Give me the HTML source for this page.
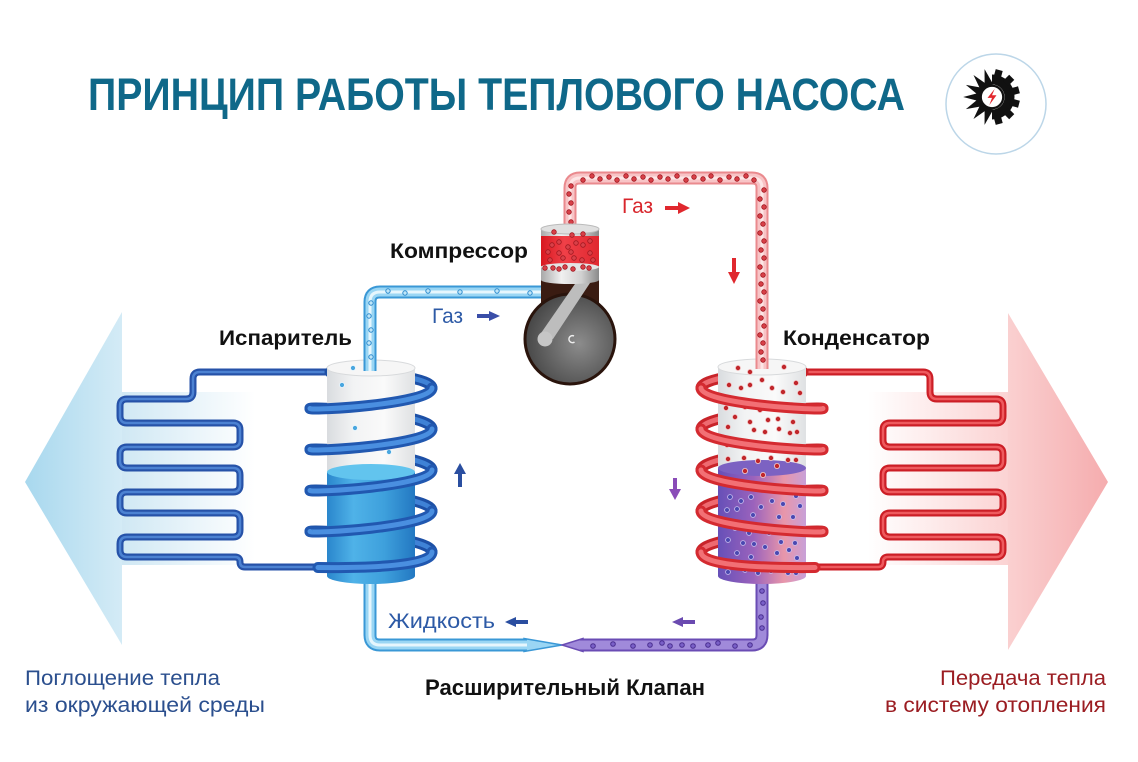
<!DOCTYPE html>
<html><head><meta charset="utf-8"><style>html,body{margin:0;padding:0;background:#fff;}svg{display:block}</style></head>
<body>
<svg xmlns="http://www.w3.org/2000/svg" xmlns:xlink="http://www.w3.org/1999/xlink" width="1138" height="762" viewBox="0 0 1138 762" font-family="'Liberation Sans','DejaVu Sans',sans-serif">
<defs>
<linearGradient id="gL" gradientUnits="userSpaceOnUse" x1="25" y1="0" x2="122" y2="0"><stop offset="0" stop-color="#a8d8ee"/><stop offset="1" stop-color="#d4ebf6"/></linearGradient>
<linearGradient id="gLb" gradientUnits="userSpaceOnUse" x1="122" y1="0" x2="255" y2="0"><stop offset="0" stop-color="#d0e8f4"/><stop offset="1" stop-color="#ffffff"/></linearGradient>
<linearGradient id="gR" gradientUnits="userSpaceOnUse" x1="1008" y1="0" x2="1108" y2="0"><stop offset="0" stop-color="#fad0d0"/><stop offset="1" stop-color="#f5acae"/></linearGradient>
<linearGradient id="gRb" gradientUnits="userSpaceOnUse" x1="868" y1="0" x2="1008" y2="0"><stop offset="0" stop-color="#ffffff"/><stop offset="1" stop-color="#fbd3d3"/></linearGradient>
<linearGradient id="glass" x1="0" y1="0" x2="1" y2="0"><stop offset="0" stop-color="#d9dcdf"/><stop offset="0.3" stop-color="#f2f3f4"/><stop offset="0.65" stop-color="#fafafa"/><stop offset="1" stop-color="#dfe1e3"/></linearGradient>
<linearGradient id="bliq" x1="0" y1="0" x2="1" y2="0"><stop offset="0" stop-color="#2a86cc"/><stop offset="0.3" stop-color="#4fb2e8"/><stop offset="0.65" stop-color="#3ea0dc"/><stop offset="1" stop-color="#2378c2"/></linearGradient>
<linearGradient id="pliq" x1="0" y1="0" x2="1" y2="0"><stop offset="0" stop-color="#6650b8"/><stop offset="0.4" stop-color="#9a62bc"/><stop offset="0.75" stop-color="#e896aa"/><stop offset="1" stop-color="#c8a0d8"/></linearGradient>
<linearGradient id="redband" x1="0" y1="0" x2="1" y2="0"><stop offset="0" stop-color="#d81820"/><stop offset="0.4" stop-color="#f04048"/><stop offset="1" stop-color="#e02830"/></linearGradient>
<linearGradient id="piston" x1="0" y1="0" x2="1" y2="0"><stop offset="0" stop-color="#a8a8a8"/><stop offset="0.35" stop-color="#f0f0f0"/><stop offset="0.7" stop-color="#d0d0d0"/><stop offset="1" stop-color="#8a8a8a"/></linearGradient>
<radialGradient id="disc" cx="0.6" cy="0.55" r="0.6"><stop offset="0" stop-color="#8c8c8c"/><stop offset="1" stop-color="#474747"/></radialGradient>

<path id="serL" d="M 335 372 L 200 372 Q 193 372 193 379 L 193 392 Q 193 399 186 399 L 127 399 Q 120 399 120 406 L 120 416 Q 120 423 127 423 L 233 423 Q 240 423 240 430 L 240 440 Q 240 447 233 447 L 127 447 Q 120 447 120 454 L 120 461 Q 120 468 127 468 L 233 468 Q 240 468 240 475 L 240 485 Q 240 492 233 492 L 127 492 Q 120 492 120 499 L 120 506 Q 120 513 127 513 L 233 513 Q 240 513 240 520 L 240 530 Q 240 537 233 537 L 127 537 Q 120 537 120 544 L 120 550 Q 120 557 127 557 L 235 557 Q 240 557 240 562 Q 240 567 245 567 L 335 567"/>
<path id="serR" d="M 798 372 L 923 372 Q 930 372 930 379 L 930 392 Q 930 399 937 399 L 996 399 Q 1003 399 1003 406 L 1003 416 Q 1003 423 996 423 L 890 423 Q 883 423 883 430 L 883 440 Q 883 447 890 447 L 996 447 Q 1003 447 1003 454 L 1003 461 Q 1003 468 996 468 L 890 468 Q 883 468 883 475 L 883 485 Q 883 492 890 492 L 996 492 Q 1003 492 1003 499 L 1003 506 Q 1003 513 996 513 L 890 513 Q 883 513 883 520 L 883 530 Q 883 537 890 537 L 996 537 Q 1003 537 1003 544 L 1003 550 Q 1003 557 996 557 L 888 557 Q 883 557 883 562 Q 883 567 878 567 L 798 567"/>

<path id="backL" d="M 330 372 C 390 372 432 379 432 388 M 310 408.5 C 310 406 432 412.9 432 429 M 310 449.5 C 310 447 432 453.9 432 470 M 310 490.5 C 310 488 432 494.9 432 511 M 310 531.5 C 310 529 432 535.9 432 552"/>
<path id="frontL" d="M 432 388 C 432 404.1 310 411 310 408.5 M 432 429 C 432 445.1 310 452 310 449.5 M 432 470 C 432 486.1 310 493 310 490.5 M 432 511 C 432 527.1 310 534 310 531.5 M 432 552 C 432 566 370 568 318 567.5"/>
<path id="backR" d="M 803 372 C 743 372 701 379 701 388 M 823 408.5 C 823 406 701 412.9 701 429 M 823 449.5 C 823 447 701 453.9 701 470 M 823 490.5 C 823 488 701 494.9 701 511 M 823 531.5 C 823 529 701 535.9 701 552"/>
<path id="frontR" d="M 701 388 C 701 404.1 823 411 823 408.5 M 701 429 C 701 445.1 823 452 823 449.5 M 701 470 C 701 486.1 823 493 823 490.5 M 701 511 C 701 527.1 823 534 823 531.5 M 701 552 C 701 566 763 568 815 567.5"/>

<path id="gasB" d="M 370 371 L 370 302 Q 370 292 380 292 L 545 292"/>
<path id="gasR" d="M 570 232 L 570 188 Q 570 178 580 178 L 752 178 Q 762 178 762 188 L 762 369"/>
<path id="liqB" d="M 370 580 L 370 635 Q 370 645 380 645 L 527 645"/>
<path id="liqP" d="M 762 580 L 762 635 Q 762 645 752 645 L 580 645"/>
</defs>

<!-- big arrows -->
<polygon points="25,482 122,312 122,645" fill="url(#gL)"/>
<rect x="122" y="392" width="133" height="173" fill="url(#gLb)"/>
<polygon points="1108,482 1008,313 1008,650" fill="url(#gR)"/>
<rect x="868" y="392" width="140" height="173" fill="url(#gRb)"/>

<!-- serpentines -->
<g fill="none" stroke-linejoin="round">
<use xlink:href="#serL" stroke="#2652a8" stroke-width="7"/>
<use xlink:href="#serL" stroke="#4c82d2" stroke-width="2.5"/>
<use xlink:href="#serR" stroke="#cc1e26" stroke-width="7"/>
<use xlink:href="#serR" stroke="#ee5a5e" stroke-width="2.5"/>
</g>

<!-- bottom liquid tubes -->
<polygon points="524,638.5 562,645 524,651.5" fill="#9ad6f4" stroke="#3a98d6" stroke-width="1.5"/>
<polygon points="583,638.5 562,645 583,651.5" fill="#a08ada" stroke="#6a4cb4" stroke-width="1.5"/>
<g fill="none">
<use xlink:href="#liqB" stroke="#3a98d6" stroke-width="13"/>
<use xlink:href="#liqB" stroke="#9ad6f4" stroke-width="9"/>
<use xlink:href="#liqB" stroke="#e6f6fd" stroke-width="3"/>
<use xlink:href="#liqP" stroke="#6a4cb4" stroke-width="13"/>
<use xlink:href="#liqP" stroke="#a08ada" stroke-width="9"/>
</g>
<g fill="#7a60c8" stroke="#4a2f90" stroke-width="1">
<circle cx="593" cy="646" r="2.3"/><circle cx="613" cy="644" r="2.3"/><circle cx="633" cy="646" r="2.3"/><circle cx="650" cy="645" r="2.3"/><circle cx="662" cy="643" r="2.3"/><circle cx="670" cy="646" r="2.3"/><circle cx="682" cy="645" r="2.3"/><circle cx="693" cy="646" r="2.3"/><circle cx="708" cy="645" r="2.3"/><circle cx="718" cy="643" r="2.3"/><circle cx="735" cy="646" r="2.3"/><circle cx="750" cy="645" r="2.3"/><circle cx="762" cy="628" r="2.3"/><circle cx="761" cy="617" r="2.3"/><circle cx="763" cy="603" r="2.3"/><circle cx="762" cy="591" r="2.3"/>
</g>

<!-- coil back strands -->
<g fill="none" stroke-linecap="round">
<use xlink:href="#backL" stroke="#1d50a6" stroke-width="11"/>
<use xlink:href="#backL" stroke="#3f82d6" stroke-width="5"/>
<use xlink:href="#backR" stroke="#c8242a" stroke-width="11"/>
<use xlink:href="#backR" stroke="#ee6a70" stroke-width="5"/>
</g>

<!-- evaporator cylinder -->
<rect x="327" y="368" width="88" height="104" fill="url(#glass)"/>
<ellipse cx="371" cy="368" rx="44" ry="8" fill="#f6f6f6" stroke="#d8dadc" stroke-width="1"/>
<path d="M327 472 L327 576 A44 8 0 0 0 415 576 L415 472 Z" fill="url(#bliq)"/>
<ellipse cx="371" cy="472" rx="44" ry="8" fill="#62c4ee"/>
<g fill="#49a6df" stroke="#e8f6fd" stroke-width="0.8">
<circle cx="353" cy="368" r="2.5"/><circle cx="342" cy="385" r="2.5"/><circle cx="355" cy="428" r="2.5"/><circle cx="343" cy="452" r="2.5"/><circle cx="389" cy="452" r="2.5"/>
</g>

<!-- condenser cylinder -->
<rect x="718" y="367" width="88" height="101" fill="url(#glass)"/>
<ellipse cx="762" cy="367" rx="44" ry="8" fill="#f6f6f6" stroke="#d8dadc" stroke-width="1"/>
<path d="M718 468 L718 576 A44 8 0 0 0 806 576 L806 468 Z" fill="url(#pliq)"/>
<ellipse cx="762" cy="468" rx="44" ry="8" fill="#7c62c2"/>
<g fill="#c0262b" stroke="#f4d0d0" stroke-width="0.8">
<circle cx="738" cy="368" r="2.6"/><circle cx="750" cy="372" r="2.6"/><circle cx="784" cy="367" r="2.6"/><circle cx="729" cy="385" r="2.6"/><circle cx="741" cy="388" r="2.6"/><circle cx="750" cy="385" r="2.6"/><circle cx="762" cy="380" r="2.6"/><circle cx="772" cy="388" r="2.6"/><circle cx="783" cy="392" r="2.6"/><circle cx="796" cy="383" r="2.6"/><circle cx="800" cy="393" r="2.6"/><circle cx="726" cy="408" r="2.6"/><circle cx="745" cy="407" r="2.6"/><circle cx="760" cy="410" r="2.6"/><circle cx="769" cy="408" r="2.6"/><circle cx="779" cy="405" r="2.6"/><circle cx="792" cy="405" r="2.6"/><circle cx="735" cy="417" r="2.6"/><circle cx="750" cy="422" r="2.6"/><circle cx="768" cy="420" r="2.6"/><circle cx="778" cy="419" r="2.6"/><circle cx="793" cy="422" r="2.6"/><circle cx="728" cy="427" r="2.6"/><circle cx="754" cy="430" r="2.6"/><circle cx="765" cy="432" r="2.6"/><circle cx="779" cy="429" r="2.6"/><circle cx="790" cy="433" r="2.6"/><circle cx="797" cy="432" r="2.6"/><circle cx="727" cy="445" r="2.6"/><circle cx="740" cy="442" r="2.6"/><circle cx="755" cy="445" r="2.6"/><circle cx="766" cy="446" r="2.6"/><circle cx="781" cy="450" r="2.6"/><circle cx="795" cy="447" r="2.6"/><circle cx="728" cy="459" r="2.6"/><circle cx="744" cy="458" r="2.6"/><circle cx="758" cy="461" r="2.6"/><circle cx="771" cy="458" r="2.6"/><circle cx="788" cy="460" r="2.6"/><circle cx="796" cy="460" r="2.6"/><circle cx="777" cy="466" r="2.6"/><circle cx="745" cy="471" r="2.6"/><circle cx="763" cy="475" r="2.6"/>
</g>
<g fill="#4a48b0" stroke="#c8c0f0" stroke-width="0.8">
<circle cx="764" cy="488" r="2.4"/><circle cx="730" cy="497" r="2.4"/><circle cx="741" cy="501" r="2.4"/><circle cx="751" cy="497" r="2.4"/><circle cx="772" cy="501" r="2.4"/><circle cx="783" cy="504" r="2.4"/><circle cx="796" cy="496" r="2.4"/><circle cx="800" cy="506" r="2.4"/><circle cx="727" cy="510" r="2.4"/><circle cx="737" cy="509" r="2.4"/><circle cx="761" cy="507" r="2.4"/><circle cx="753" cy="515" r="2.4"/><circle cx="779" cy="517" r="2.4"/><circle cx="793" cy="517" r="2.4"/><circle cx="735" cy="528" r="2.4"/><circle cx="749" cy="533" r="2.4"/><circle cx="769" cy="533" r="2.4"/><circle cx="779" cy="532" r="2.4"/><circle cx="792" cy="533" r="2.4"/><circle cx="728" cy="540" r="2.4"/><circle cx="743" cy="543" r="2.4"/><circle cx="754" cy="544" r="2.4"/><circle cx="765" cy="547" r="2.4"/><circle cx="781" cy="542" r="2.4"/><circle cx="789" cy="550" r="2.4"/><circle cx="795" cy="543" r="2.4"/><circle cx="737" cy="553" r="2.4"/><circle cx="751" cy="557" r="2.4"/><circle cx="777" cy="553" r="2.4"/><circle cx="797" cy="558" r="2.4"/><circle cx="728" cy="572" r="2.4"/><circle cx="745" cy="570" r="2.4"/><circle cx="758" cy="573" r="2.4"/><circle cx="771" cy="571" r="2.4"/><circle cx="788" cy="573" r="2.4"/><circle cx="796" cy="573" r="2.4"/>
</g>

<!-- coil front strands -->
<g fill="none" stroke-linecap="round">
<use xlink:href="#frontL" stroke="#2158b0" stroke-width="11"/>
<use xlink:href="#frontL" stroke="#4a8fe0" stroke-width="5"/>
<use xlink:href="#frontR" stroke="#d42a30" stroke-width="11"/>
<use xlink:href="#frontR" stroke="#f27075" stroke-width="5"/>
</g>

<!-- gas tubes -->
<g fill="none">
<use xlink:href="#gasB" stroke="#3a98d6" stroke-width="13"/>
<use xlink:href="#gasB" stroke="#9ad6f4" stroke-width="9"/>
<use xlink:href="#gasB" stroke="#e6f6fd" stroke-width="3"/>
<use xlink:href="#gasR" stroke="#ea8a8e" stroke-width="13"/>
<use xlink:href="#gasR" stroke="#f8c4c6" stroke-width="9"/>
<use xlink:href="#gasR" stroke="#fde6e6" stroke-width="3"/>
</g>
<g fill="#bfe6f8" stroke="#2f8ccf" stroke-width="1">
<circle cx="388" cy="291" r="2.2"/><circle cx="405" cy="293" r="2.2"/><circle cx="428" cy="291" r="2.2"/><circle cx="460" cy="292" r="2.2"/><circle cx="497" cy="291" r="2.2"/><circle cx="530" cy="293" r="2.2"/><circle cx="371" cy="303" r="2.2"/><circle cx="369" cy="316" r="2.2"/><circle cx="371" cy="330" r="2.2"/><circle cx="369" cy="343" r="2.2"/><circle cx="371" cy="357" r="2.2"/>
</g>
<g fill="#d84048" stroke="#a01820" stroke-width="0.8">
<circle cx="571" cy="222" r="2.3"/><circle cx="569" cy="212" r="2.3"/><circle cx="571" cy="203" r="2.3"/><circle cx="569" cy="194" r="2.3"/><circle cx="571" cy="186" r="2.3"/>
<circle cx="583" cy="180" r="2.3"/><circle cx="592" cy="176" r="2.3"/><circle cx="600" cy="179" r="2.3"/><circle cx="609" cy="177" r="2.3"/><circle cx="617" cy="180" r="2.3"/><circle cx="626" cy="176" r="2.3"/><circle cx="634" cy="179" r="2.3"/><circle cx="643" cy="177" r="2.3"/><circle cx="651" cy="180" r="2.3"/><circle cx="660" cy="177" r="2.3"/><circle cx="668" cy="179" r="2.3"/><circle cx="677" cy="176" r="2.3"/><circle cx="686" cy="180" r="2.3"/><circle cx="694" cy="177" r="2.3"/><circle cx="703" cy="179" r="2.3"/><circle cx="711" cy="176" r="2.3"/><circle cx="720" cy="180" r="2.3"/><circle cx="729" cy="177" r="2.3"/><circle cx="737" cy="179" r="2.3"/><circle cx="746" cy="176" r="2.3"/><circle cx="754" cy="180" r="2.3"/>
<circle cx="764" cy="190" r="2.3"/><circle cx="760" cy="199" r="2.3"/><circle cx="764" cy="207" r="2.3"/><circle cx="760" cy="216" r="2.3"/><circle cx="763" cy="224" r="2.3"/><circle cx="760" cy="233" r="2.3"/><circle cx="764" cy="241" r="2.3"/><circle cx="761" cy="250" r="2.3"/><circle cx="764" cy="258" r="2.3"/><circle cx="760" cy="267" r="2.3"/><circle cx="763" cy="275" r="2.3"/><circle cx="761" cy="284" r="2.3"/><circle cx="764" cy="292" r="2.3"/><circle cx="760" cy="301" r="2.3"/><circle cx="763" cy="309" r="2.3"/><circle cx="761" cy="318" r="2.3"/><circle cx="764" cy="326" r="2.3"/><circle cx="760" cy="335" r="2.3"/><circle cx="763" cy="343" r="2.3"/><circle cx="761" cy="352" r="2.3"/><circle cx="763" cy="360" r="2.3"/>
</g>

<!-- compressor -->
<rect x="541" y="278" width="58" height="45" fill="#3a1c12"/>
<circle cx="570" cy="339" r="45" fill="url(#disc)" stroke="#2a140c" stroke-width="3"/>
<polygon points="577,281 590,283 553,339 539,336" fill="#bdbdbd"/>
<circle cx="545" cy="339" r="7.5" fill="#c6c6c6"/>
<path d="M574,336 a3.5,3.5 0 1 0 0.5,6" stroke="#eeeeee" fill="none" stroke-width="1.5"/>
<rect x="541" y="266" width="58" height="14" fill="url(#piston)"/>
<ellipse cx="570" cy="280" rx="29" ry="4" fill="url(#piston)"/>
<rect x="541" y="236" width="58" height="30" fill="url(#redband)"/>
<ellipse cx="570" cy="267" rx="29" ry="4" fill="#e4e4e4"/>
<rect x="541" y="229" width="58" height="7" fill="url(#piston)"/>
<ellipse cx="570" cy="229" rx="29" ry="5" fill="#e0e0e0" stroke="#bbbbbb" stroke-width="1"/>
<g fill="#d84048" stroke="#a01820" stroke-width="0.8">
<circle cx="554" cy="232" r="2.3"/><circle cx="572" cy="235" r="2.3"/><circle cx="583" cy="234" r="2.3"/><circle cx="552" cy="245" r="2.3"/><circle cx="559" cy="242" r="2.3"/><circle cx="568" cy="247" r="2.3"/><circle cx="576" cy="243" r="2.3"/><circle cx="583" cy="245" r="2.3"/><circle cx="590" cy="241" r="2.3"/><circle cx="548" cy="252" r="2.3"/><circle cx="559" cy="253" r="2.3"/><circle cx="571" cy="252" r="2.3"/><circle cx="590" cy="253" r="2.3"/><circle cx="550" cy="260" r="2.3"/><circle cx="563" cy="258" r="2.3"/><circle cx="574" cy="258" r="2.3"/><circle cx="582" cy="260" r="2.3"/><circle cx="593" cy="260" r="2.3"/><circle cx="545" cy="268" r="2.3"/><circle cx="553" cy="268" r="2.3"/><circle cx="559" cy="269" r="2.3"/><circle cx="565" cy="267" r="2.3"/><circle cx="573" cy="269" r="2.3"/><circle cx="583" cy="267" r="2.3"/><circle cx="589" cy="268" r="2.3"/>
</g>

<!-- small flow arrows -->
<g fill="#e0282e">
<rect x="665" y="206" width="14" height="4"/><polygon points="678,202 690,208 678,214"/>
<rect x="732" y="258" width="4" height="15"/><polygon points="728,272 734,284 740,272"/>
</g>
<g fill="#3a4ea8">
<rect x="477" y="314" width="13" height="4"/><polygon points="489,311 500,316 489,321"/>
</g>
<g fill="#2a4ea0">
<rect x="458" y="473" width="4" height="14"/><polygon points="454,474 460,463 466,474"/>
<rect x="515" y="620" width="13" height="4"/><polygon points="505,622 516,617 516,627"/>
</g>
<g fill="#8a4cb8">
<rect x="673" y="478" width="4" height="12"/><polygon points="669,489 675,500 681,489"/>
</g>
<g fill="#6a4ab0">
<rect x="682" y="620" width="13" height="4"/><polygon points="672,622 683,617 683,627"/>
</g>

<!-- labels -->
<g font-weight="bold" fill="#111">
<text x="390" y="258" font-size="21" textLength="138" lengthAdjust="spacingAndGlyphs">Компрессор</text>
<text x="219" y="345" font-size="21" textLength="133" lengthAdjust="spacingAndGlyphs">Испаритель</text>
<text x="783" y="345" font-size="21" textLength="147" lengthAdjust="spacingAndGlyphs">Конденсатор</text>
<text x="425" y="695" font-size="22" textLength="280" lengthAdjust="spacingAndGlyphs">Расширительный Клапан</text>
</g>
<text x="622" y="213" font-size="21" fill="#d8262c" textLength="31" lengthAdjust="spacingAndGlyphs">Газ</text>
<text x="432" y="323" font-size="21" fill="#2d5aa6" textLength="31" lengthAdjust="spacingAndGlyphs">Газ</text>
<text x="388" y="628" font-size="21" fill="#2d5aa6" textLength="107" lengthAdjust="spacingAndGlyphs">Жидкость</text>
<g font-size="21" fill="#2b4f8e">
<text x="25" y="685" textLength="195" lengthAdjust="spacingAndGlyphs">Поглощение тепла</text>
<text x="25" y="712" textLength="240" lengthAdjust="spacingAndGlyphs">из окружающей среды</text>
</g>
<g font-size="21" fill="#9b1d22">
<text x="940" y="685" textLength="166" lengthAdjust="spacingAndGlyphs">Передача тепла</text>
<text x="885" y="712" textLength="221" lengthAdjust="spacingAndGlyphs">в систему отопления</text>
</g>

<!-- title -->
<text x="88" y="110" font-size="45" font-weight="bold" fill="#0f6889" textLength="817" lengthAdjust="spacingAndGlyphs">ПРИНЦИП РАБОТЫ ТЕПЛОВОГО НАСОСА</text>

<!-- logo -->
<circle cx="996" cy="104" r="50" fill="#ffffff" stroke="#bcd6e8" stroke-width="1.5"/>
<g transform="translate(992,97) scale(0.9)">
<path d="M0,-25 A25,25 0 0 1 0,25 L0,14 A14,14 0 0 0 0,-14 Z" fill="#111"/>
<g fill="#111">
<rect x="21" y="-4" width="10" height="8" transform="rotate(-75)"/>
<rect x="21" y="-4" width="10" height="8" transform="rotate(-45)"/>
<rect x="21" y="-4" width="10" height="8" transform="rotate(-15)"/>
<rect x="21" y="-4" width="10" height="8" transform="rotate(15)"/>
<rect x="21" y="-4" width="10" height="8" transform="rotate(45)"/>
<rect x="21" y="-4" width="10" height="8" transform="rotate(75)"/>
<polygon points="13,-5 32,0 13,5" transform="rotate(105)"/>
<polygon points="13,-5 32,0 13,5" transform="rotate(130)"/>
<polygon points="13,-5 32,0 13,5" transform="rotate(155)"/>
<polygon points="13,-5 32,0 13,5" transform="rotate(180)"/>
<polygon points="13,-5 32,0 13,5" transform="rotate(205)"/>
<polygon points="13,-5 32,0 13,5" transform="rotate(230)"/>
<polygon points="13,-5 32,0 13,5" transform="rotate(255)"/>
</g>
<circle r="12.5" fill="#ffffff" stroke="#111" stroke-width="2.5"/>
<polygon points="3,-9 -5,1 0,1 -3,9 5,-2 0,-2" fill="#e3262c"/>
</g>
</svg>
</body></html>
